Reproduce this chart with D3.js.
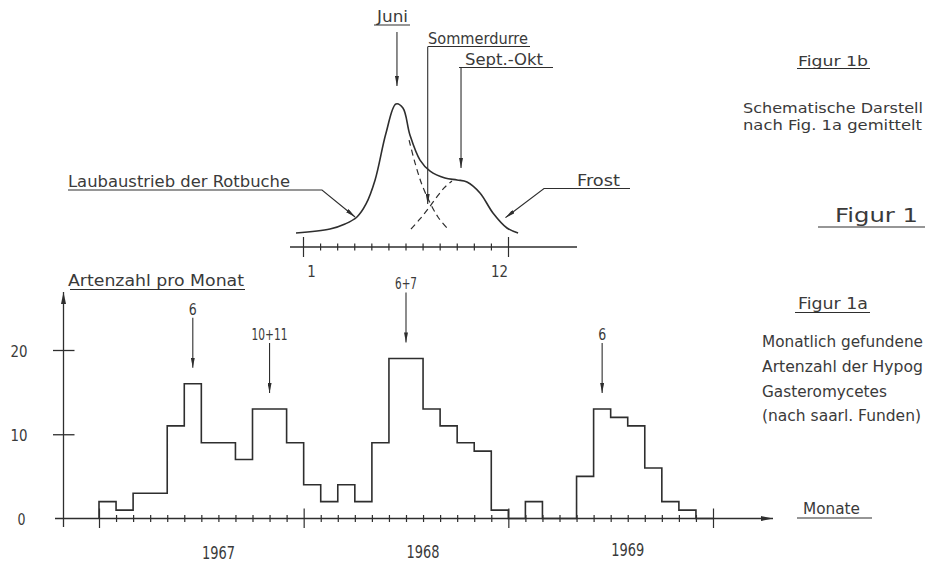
<!DOCTYPE html>
<html>
<head>
<meta charset="utf-8">
<script src="https://cdn.jsdelivr.net/npm/d3@7"></script>
<style>
  body { margin: 0; background: #fff; }
  svg { display: block; }
  text { font-family: "DejaVu Sans", "Noto Sans", sans-serif; fill: #3a3a3a; }
</style>
</head>
<body>
<svg id="chart" width="925" height="563"></svg>
<script>
// ---------------- DATA ----------------
const years = [1967, 1968, 1969];
const counts1967 = [2, 1, 3, 3, 11, 16, 9, 9, 7, 13, 13, 9];
const counts1968 = [4, 2, 4, 2, 9, 19, 19, 13, 11, 9, 8, 1];
const counts1969 = [0, 2, 0, 0, 5, 13, 12, 11, 6, 2, 1, 0];
const yTickValues = [0, 10, 20];

// peak annotations (month position counted from Jan 1967 = 0)
const peakLabels = ["6", "10+11", "6+7", "6"];
const peakMonths = [5.5, 10, 18, 29.5];
const peakValues = [16, 13, 19, 13];

// schematic curve (Figur 1b): month position (0 = start of Jan) and relative value
const schematicMonths = [-0.41, 1.58, 2.46, 3.16, 3.69, 4.22, 4.86, 5.44, 5.85, 6.26, 6.85, 7.44, 8.31, 9.02, 9.60, 10.36, 11.12, 11.94, 12.59];
const schematicValues = [0.98, 1.26, 1.61, 2.10, 3.01, 4.69, 7.97, 10, 9.72, 7.83, 6.08, 5.31, 4.83, 4.69, 4.55, 3.78, 2.38, 1.33, 0.98];
const juniMonths = [6.21, 6.56, 6.97, 7.44, 7.90, 8.43];
const juniValues = [7.48, 5.87, 4.34, 3.08, 2.10, 1.33];
const septMonths = [6.32, 6.85, 7.32, 7.79, 8.26, 8.72];
const septValues = [1.26, 1.96, 2.66, 3.43, 4.13, 4.62];
const schematicTickLabels = ["1", "12"];
const schematicTickMonths = [0.5, 11.5];

// ---------------- SETUP ----------------
const svg = d3.select("#chart");
const ink = "#2e2e2e";

const defs = svg.append("defs");
defs.append("marker")
  .attr("id", "ah").attr("viewBox", "0 0 10 4")
  .attr("refX", 10).attr("refY", 2)
  .attr("markerWidth", 10).attr("markerHeight", 4)
  .attr("markerUnits", "userSpaceOnUse").attr("orient", "auto")
  .append("path").attr("d", "M0,0 L10,2 L0,4 Z").attr("fill", ink);
defs.append("marker")
  .attr("id", "ah2").attr("viewBox", "0 0 12 5")
  .attr("refX", 12).attr("refY", 2.5)
  .attr("markerWidth", 12).attr("markerHeight", 5)
  .attr("markerUnits", "userSpaceOnUse").attr("orient", "auto")
  .append("path").attr("d", "M0,0 L12,2.5 L0,5 Z").attr("fill", ink);

function txt(s, x, y, size, w, anchor) {
  const t = svg.append("text").attr("x", x).attr("y", y)
    .style("font-size", size + "px").text(s);
  if (w) t.attr("textLength", w).attr("lengthAdjust", "spacingAndGlyphs");
  if (anchor) t.attr("text-anchor", anchor);
  return t;
}
function seg(x1, y1, x2, y2, w, marker) {
  const l = svg.append("line").attr("x1", x1).attr("y1", y1).attr("x2", x2).attr("y2", y2)
    .attr("stroke", ink).attr("stroke-width", w || 1.2);
  if (marker) l.attr("marker-end", "url(#" + marker + ")");
  return l;
}
function polyline(pts, w, marker) {
  const p = svg.append("path").attr("d", d3.line()(pts)).attr("fill", "none")
    .attr("stroke", ink).attr("stroke-width", w || 1.2);
  if (marker) p.attr("marker-end", "url(#" + marker + ")");
  return p;
}

// ---------------- FIGUR 1a (bottom) ----------------
const x = d3.scaleLinear().domain([0, 36]).range([99, 713]);
const y = d3.scaleLinear().domain([0, 20]).range([518.5, 350]);

// x axis line with arrow
seg(55, y(0), 773, y(0), 1.3, "ah2");
// month ticks
const xAxis = d3.axisBottom(x).tickValues(d3.range(0, 37)).tickSize(0).tickFormat("");
const gx = svg.append("g").attr("transform", `translate(0,${y(0)})`).call(xAxis);
gx.select(".domain").remove();
gx.selectAll(".tick line").attr("y1", d => d % 12 === 0 ? -10 : -3.5)
  .attr("y2", d => d % 12 === 0 ? 9.5 : 3.5)
  .attr("stroke", ink).attr("stroke-width", 1.2);

// y axis with arrow
seg(63.5, 527, 63.5, 292, 1.3, "ah2");
const yAxis = d3.axisLeft(y).tickValues(yTickValues).tickSize(0).tickPadding(0);
const gy = svg.append("g").attr("transform", "translate(63.5,0)").call(yAxis);
gy.select(".domain").remove();
gy.selectAll(".tick").each(function (d) {
  const g = d3.select(this);
  if (d !== 0) g.append("line").attr("x1", -10.5).attr("x2", 11).attr("stroke", ink).attr("stroke-width", 1.3);
  g.select("text").attr("x", d === 0 ? -38 : -36).attr("dy", "0.38em")
    .style("font-size", "16px").style("font-family", '"DejaVu Sans", sans-serif')
    .attr("fill", "#3a3a3a")
    .attr("textLength", d === 0 ? 8 : 17).attr("lengthAdjust", "spacingAndGlyphs");
});

// step line
const allCounts = counts1967.concat(counts1968, counts1969);
const stepPts = [[0, 0]].concat(allCounts.map((v, i) => [i, v]), [[36, allCounts[35]]]);
svg.append("path")
  .attr("d", d3.line().x(d => x(d[0])).y(d => y(d[1])).curve(d3.curveStepAfter)(stepPts))
  .attr("fill", "none").attr("stroke", ink).attr("stroke-width", 1.6);

// peak annotations
peakLabels.forEach((lab, i) => {
  const px = x(peakMonths[i]);
  const tip = y(peakValues[i]) - 16;
  seg(px, tip - 50, px, tip, 1.1, "ah");
  const w = lab.length === 1 ? 8 : (lab.length === 3 ? 22 : 36);
  txt(lab, px, tip - 53, 15, w, "middle");
});

// year labels
years.forEach((yr, i) => {
  txt(String(yr), x(12 * i + 7), 559 - i * 1.5, 17, 33, "middle");
});

// axis titles
txt("Artenzahl pro Monat", 68, 286, 15, 176);
seg(70, 289.5, 245, 289.5, 1.1);
txt("Monate", 803, 514, 15, 57);
seg(797, 518, 872, 518, 1.1);

// right description 1a (as visible in the reference, cut at the page edge)
txt("Figur 1a", 798, 309, 15, 70);
seg(795, 312.5, 870, 312.5, 1.1);
txt("Monatlich gefundene", 762, 347, 15, 161);
txt("Artenzahl der Hypog", 762, 372, 15, 161);
txt("Gasteromycetes", 762, 397, 15, 125);
txt("(nach saarl. Funden)", 762, 421, 15, 159);

// ---------------- FIGUR 1b (top) ----------------
const xT = d3.scaleLinear().domain([0, 12]).range([303, 508]);
const yT = d3.scaleLinear().domain([0, 10]).range([247, 104]);

seg(290, yT(0), 577, yT(0), 1.3);
const xTAxis = d3.axisBottom(xT).tickValues(d3.range(0, 13)).tickSize(0).tickFormat("");
const gxt = svg.append("g").attr("transform", `translate(0,${yT(0)})`).call(xTAxis);
gxt.select(".domain").remove();
gxt.selectAll(".tick line").attr("y1", d => d % 12 === 0 ? -10 : -3.5)
  .attr("y2", d => d % 12 === 0 ? 10 : 3.5)
  .attr("stroke", ink).attr("stroke-width", 1.2);
schematicTickLabels.forEach((lab, i) => {
  txt(lab, xT(schematicTickMonths[i]), 277, 15, lab.length * 8.5, "middle");
});

const curveLine = d3.line().x(d => xT(d[0])).y(d => yT(d[1])).curve(d3.curveCatmullRom.alpha(0.5));
svg.append("path").attr("d", curveLine(schematicMonths.map((m, i) => [m, schematicValues[i]])))
  .attr("fill", "none").attr("stroke", ink).attr("stroke-width", 1.6);
svg.append("path").attr("d", curveLine(juniMonths.map((m, i) => [m, juniValues[i]])))
  .attr("fill", "none").attr("stroke", ink).attr("stroke-width", 1.2).attr("stroke-dasharray", "6,4");
svg.append("path").attr("d", curveLine(septMonths.map((m, i) => [m, septValues[i]])))
  .attr("fill", "none").attr("stroke", ink).attr("stroke-width", 1.2).attr("stroke-dasharray", "6,4");

// Juni
txt("Juni", 377, 22, 15, 31);
seg(374, 25, 410, 25, 1.1);
seg(xT(5.5), 32, xT(5.5), 86, 1.1, "ah");
// Sommerdurre
txt("Sommerdurre", 428, 44, 15, 100);
seg(428, 46.5, 530, 46.5, 1.1);
seg(xT(7.3), 46.5, xT(7.3), 204, 1.1, "ah");
// Sept.-Okt
txt("Sept.-Okt", 465, 65, 15, 78);
seg(459, 67.5, 553, 67.5, 1.1);
seg(xT(9.25), 67.5, xT(9.25), 168, 1.1, "ah");
// Laubaustrieb
txt("Laubaustrieb der Rotbuche", 68, 187, 15, 222);
polyline([[68, 190], [322, 190], [xT(3.05), yT(2.1)]], 1.1, "ah");
// Frost
txt("Frost", 577, 186, 15, 43);
polyline([[630, 188.5], [544, 188.5], [xT(11.85), yT(2.05)]], 1.1, "ah");

// right description 1b (as visible in the reference, cut at the page edge)
txt("Figur 1b", 798, 66, 14, 70);
seg(797, 68.5, 870, 68.5, 1.1);
txt("Schematische Darstell", 743, 113, 14, 180);
txt("nach Fig. 1a gemittelt", 743, 130, 14, 179);
txt("Figur 1", 835, 222, 19, 83);
seg(818, 227, 925, 227, 1.2);
</script>
</body>
</html>
